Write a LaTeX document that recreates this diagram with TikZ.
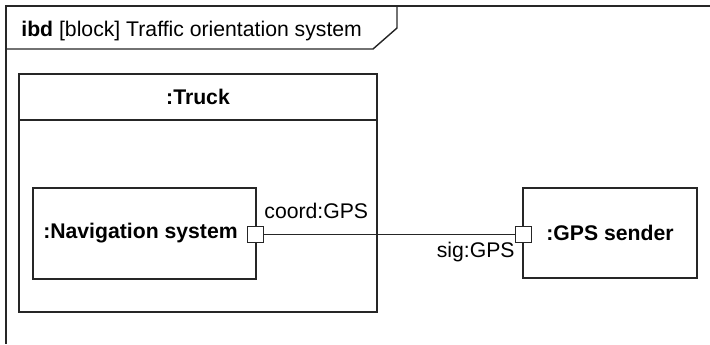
\documentclass[tikz,border=0pt]{standalone}
\usepackage{fontspec}
\setmainfont{Liberation Sans}
\begin{document}
\begin{tikzpicture}[x=0.5pt,y=-0.5pt,
  lw/.style={line width=0.7pt, draw=black!85},
  blk/.style={lw, rectangle, inner sep=0pt, font=\fontsize{10.6}{12}\selectfont\bfseries},
  port/.style={lw, rectangle, fill=white, minimum width=8pt, minimum height=8pt, inner sep=0pt},
  lbl/.style={inner sep=0pt, font=\fontsize{10.6}{12}\selectfont}]
\useasboundingbox (0,0) rectangle (710,344);
% frame
\draw[lw] (710,6) -- (6,6) -- (6,344);
\draw[lw] (397,6) -- (397,28) -- (373,49) -- (6,49);
\node[lbl, anchor=west] (hdr) at (21,31) {\textbf{ibd} [block] Traffic orientation system};
% Truck
\node[blk, minimum width=179pt, minimum height=119pt] (truck) at (198,193) {};
\draw[line width=1.1pt, draw=black!85] (truck.west |- 0,120) -- (truck.east |- 0,120);
\node[lbl, font=\fontsize{10.6}{12}\selectfont\bfseries] (ttl) at (198,97) {:Truck};
% Navigation system
\node[blk, minimum width=111.5pt, minimum height=45.5pt] (nav) at (144.5,233.5) {};
\node[lbl, font=\fontsize{10.6}{12}\selectfont\bfseries] (navt) at (140.5,233) {:Navigation system};
\node[port] (np) at (255.5,234.5) {};
% GPS sender
\node[blk, minimum width=87pt, minimum height=45pt] (gps) at (610,233) {};
\node[lbl, font=\fontsize{10.6}{12}\selectfont\bfseries] (gpst) at (610,233) {:GPS sender};
\node[port] (gp) at (523.5,234.5) {};
% connector
\draw[lw] (np.east) -- (gp.west);
\node[lbl, anchor=west] (cl) at (264,211) {coord:GPS};
\node[lbl, anchor=east] (sl) at (515,252) {sig:GPS};
\end{tikzpicture}
\end{document}
